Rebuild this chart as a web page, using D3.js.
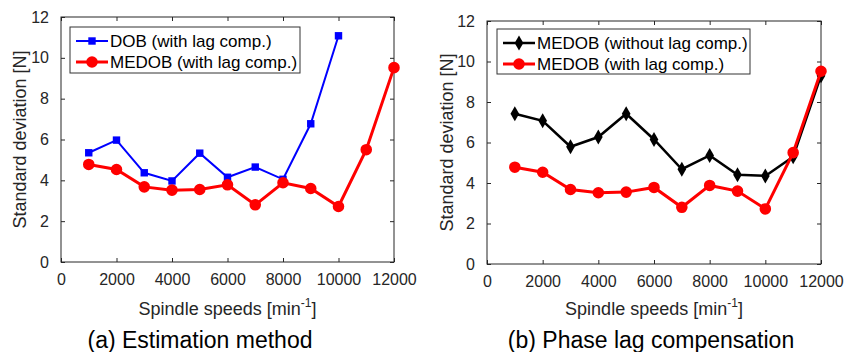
<!DOCTYPE html>
<html>
<head>
<meta charset="utf-8">
<script src="https://cdn.jsdelivr.net/npm/d3@7"></script>
<style>
  body { margin: 0; background: #fff; }
  text { font-family: "Liberation Sans", Arial, sans-serif; }
</style>
</head>
<body>
<script>
// spindle speeds [min^-1]
const speeds = [1000, 2000, 3000, 4000, 5000, 6000, 7000, 8000, 9000, 10000, 11000, 12000];
const dobLag = [5.35, 5.97, 4.37, 3.97, 5.33, 4.15, 4.65, 4.05, 6.77, 11.08];
const medobLag = [4.78, 4.53, 3.68, 3.52, 3.55, 3.78, 2.8, 3.88, 3.6, 2.72, 5.5, 9.52];
const medobNoLag = [7.42, 7.07, 5.79, 6.27, 7.42, 6.15, 4.68, 5.36, 4.41, 4.35, 5.3, 9.3];
const xTicks = [0, 2000, 4000, 6000, 8000, 10000, 12000];
const yTicks = [0, 2, 4, 6, 8, 10, 12];

const svg = d3.select('body').append('svg')
  .attr('width', 859).attr('height', 352);

function panel(box, series, leg, ylabX, xlabY) {
  const x = d3.scaleLinear().domain([0, 12000]).range([box.x0, box.x1]);
  const y = d3.scaleLinear().domain([0, 12]).range([box.y1, box.y0]);
  const g = svg.append('g');

  // axes (ticks inside, box on)
  g.append('g').attr('transform', `translate(0,${box.y1})`)
    .call(d3.axisBottom(x).tickValues(xTicks).tickSizeInner(-4).tickSizeOuter(0).tickPadding(12).tickFormat(d3.format('d')));
  g.append('g').attr('transform', `translate(0,${box.y0})`)
    .call(d3.axisTop(x).tickValues(xTicks).tickSizeInner(-4).tickSizeOuter(0).tickFormat(''));
  g.append('g').attr('transform', `translate(${box.x0},0)`)
    .call(d3.axisLeft(y).tickValues(yTicks).tickSizeInner(-4).tickSizeOuter(0).tickPadding(12));
  g.append('g').attr('transform', `translate(${box.x1},0)`)
    .call(d3.axisRight(y).tickValues(yTicks).tickSizeInner(-4).tickSizeOuter(0).tickFormat(''));
  g.selectAll('.domain').remove();
  g.selectAll('.tick line').attr('stroke', '#262626');
  g.selectAll('.tick text').attr('fill', '#262626').style('font-size', '16px');
  g.append('rect').attr('x', box.x0).attr('y', box.y0)
    .attr('width', box.x1 - box.x0).attr('height', box.y1 - box.y0)
    .attr('fill', 'none').attr('stroke', '#262626').attr('stroke-width', 1);

  // axis labels
  g.append('text')
    .attr('transform', `translate(${ylabX},${(box.y0 + box.y1) / 2}) rotate(-90)`)
    .attr('text-anchor', 'middle').attr('fill', '#262626').style('font-size', '18px')
    .text('Standard deviation [N]');
  const xl = g.append('text').attr('x', (box.x0 + box.x1) / 2).attr('y', xlabY)
    .attr('text-anchor', 'middle').attr('fill', '#262626').style('font-size', '18px');
  xl.append('tspan').text('Spindle speeds [min');
  xl.append('tspan').attr('dy', -8).style('font-size', '12px').text('-1');
  xl.append('tspan').attr('dy', 8).text(']');

  // series
  const line = d3.line().x((d, i) => x(speeds[i])).y(d => y(d));
  series.forEach(s => {
    g.append('path').datum(s.values).attr('d', line)
      .attr('fill', 'none').attr('stroke', s.color).attr('stroke-width', s.width);
    g.selectAll(null).data(s.values).enter().append('path')
      .attr('transform', (d, i) => `translate(${x(speeds[i])},${y(d)})`)
      .attr('d', d3.symbol().type(s.symbol).size(s.size))
      .attr('fill', s.color);
  });

  // legend
  const lg = g.append('g');
  lg.append('rect').attr('x', leg.x).attr('y', leg.y).attr('width', leg.w).attr('height', leg.h)
    .attr('fill', '#fff').attr('stroke', '#333').attr('stroke-width', 1);
  series.forEach((s, k) => {
    const yy = leg.y + 14 + k * 21;
    lg.append('line').attr('x1', leg.x + 6).attr('x2', leg.x + 38).attr('y1', yy).attr('y2', yy)
      .attr('stroke', s.color).attr('stroke-width', s.width);
    lg.append('path').attr('transform', `translate(${leg.x + 22},${yy})`)
      .attr('d', d3.symbol().type(s.symbol).size(s.size)).attr('fill', s.color);
    lg.append('text').attr('x', leg.x + 40).attr('y', yy + 6)
      .attr('fill', '#000').style('font-size', '17px').text(s.name);
  });
}

const dobS = { name: 'DOB (with lag comp.)', values: dobLag, color: '#0000ff', width: 2, symbol: d3.symbolSquare, size: 55 };
const medS = { name: 'MEDOB (with lag comp.)', values: medobLag, color: '#ff0000', width: 3, symbol: d3.symbolCircle, size: 105 };
const noS = { name: 'MEDOB (without lag comp.)', values: medobNoLag, color: '#000000', width: 2.5, symbol: d3.symbolDiamond, size: 65 };

panel({ x0: 61, x1: 394, y0: 17, y1: 262 }, [dobS, medS],
  { x: 70, y: 27, w: 230, h: 46 }, 26, 315);
panel({ x0: 487, x1: 821, y0: 21, y1: 264 }, [noS, medS],
  { x: 497, y: 29, w: 253, h: 45 }, 453, 315);

// panel titles
svg.append('text').attr('x', 200).attr('y', 348).attr('text-anchor', 'middle')
  .style('font-size', '23px').attr('fill', '#000').text('(a) Estimation method');
svg.append('text').attr('x', 651).attr('y', 348).attr('text-anchor', 'middle')
  .style('font-size', '23px').attr('fill', '#000').text('(b) Phase lag compensation');
</script>
</body>
</html>
